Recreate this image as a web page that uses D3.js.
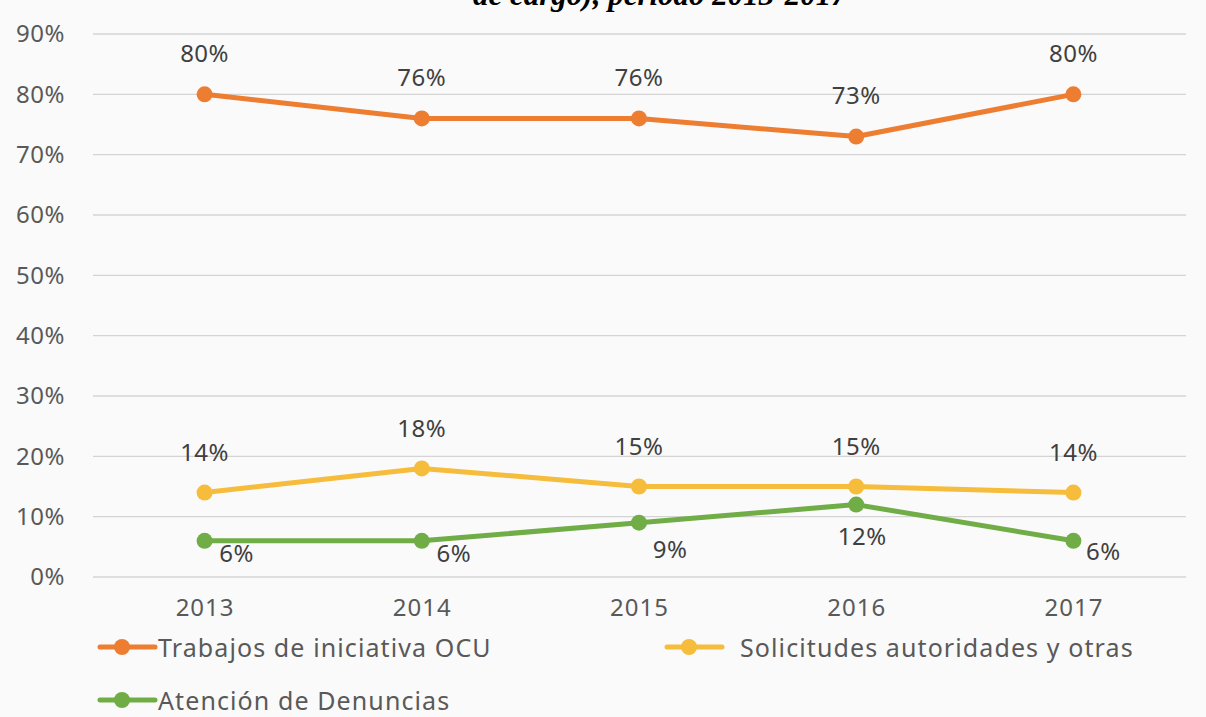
<!DOCTYPE html>
<html>
<head>
<meta charset="utf-8">
<script src="https://cdn.jsdelivr.net/npm/d3@7"></script>
<style>
  body { margin: 0; background: #fafafa; }
  svg { display: block; }
</style>
</head>
<body>
<div id="chart"></div>
<script>
// datos
const years = ["2013", "2014", "2015", "2016", "2017"];
const yTicks = [0, 0.1, 0.2, 0.3, 0.4, 0.5, 0.6, 0.7, 0.8, 0.9];
const trabajosOCU = [0.80, 0.76, 0.76, 0.73, 0.80];
const solicitudes = [0.14, 0.18, 0.15, 0.15, 0.14];
const denuncias = [0.06, 0.06, 0.09, 0.12, 0.06];
const seriesNames = ["Trabajos de iniciativa OCU", "Solicitudes autoridades y otras", "Atención de Denuncias"];
const titleTail = "de cargo), periodo 2013-2017";

const W = 1206, H = 717;
const font = "'Noto Sans', 'Open Sans', sans-serif";

const svg = d3.select("#chart").append("svg")
  .attr("width", W)
  .attr("height", H);

svg.append("rect").attr("width", W).attr("height", H).attr("fill", "#fafafa");

// título cortado arriba (solo se ve la parte baja)
svg.append("text")
  .attr("x", 473)
  .attr("y", 5)
  .style("font-family", "'Liberation Serif', serif")
  .style("font-weight", "bold")
  .style("font-style", "italic")
  .style("font-size", "31px")
  .attr("fill", "#000")
  .text(titleTail);

const x = d3.scalePoint()
  .domain(years)
  .range([96, 1182])
  .padding(0.5);

const y = d3.scaleLinear()
  .domain([0, 0.9])
  .range([577, 34]);

// rejilla
svg.append("g")
  .selectAll("line")
  .data(yTicks)
  .join("line")
  .attr("x1", 93)
  .attr("x2", 1186)
  .attr("y1", d => y(d))
  .attr("y2", d => y(d))
  .attr("stroke", "#d4d4d4")
  .attr("stroke-width", 1.3);

// eje Y
const yAxis = svg.append("g")
  .attr("transform", "translate(65,0)")
  .call(d3.axisLeft(y).tickValues(yTicks).tickFormat(d3.format(".0%")).tickSize(0).tickPadding(0));
yAxis.select(".domain").remove();
yAxis.selectAll("text")
  .style("font-family", font)
  .style("font-size", "24px")
  .style("letter-spacing", "0.5px")
  .attr("fill", "#595959");

// eje X
const xAxis = svg.append("g")
  .attr("transform", "translate(0,577)")
  .call(d3.axisBottom(x).tickSize(0).tickPadding(22));
xAxis.select(".domain").remove();
xAxis.selectAll("text")
  .style("font-family", font)
  .style("font-size", "24px")
  .style("letter-spacing", "1px")
  .attr("fill", "#595959");

// desplazamientos de etiquetas (solo maquetación)
const series = [
  {name: seriesNames[0], values: trabajosOCU, color: "#ed7d31", labelDx: [0, 0, 0, 0, 0], labelDy: [-42, -42, -42, -42, -42]},
  {name: seriesNames[1], values: solicitudes, color: "#f6bc3b", labelDx: [0, 0, 0, 0, 0], labelDy: [-41, -41, -41, -41, -41]},
  {name: seriesNames[2], values: denuncias, color: "#70ad47", labelDx: [32, 32, 31, 6, 30], labelDy: [12, 12, 26, 31, 10]}
];

const line = d3.line()
  .x((d, i) => x(years[i]))
  .y(d => y(d));

series.forEach(s => {
  const g = svg.append("g");
  g.append("path")
    .datum(s.values)
    .attr("fill", "none")
    .attr("stroke", s.color)
    .attr("stroke-width", 5)
    .attr("stroke-linejoin", "round")
    .attr("d", line);
  g.selectAll("circle")
    .data(s.values)
    .join("circle")
    .attr("cx", (d, i) => x(years[i]))
    .attr("cy", d => y(d))
    .attr("r", 8)
    .attr("fill", s.color);
  g.selectAll("text")
    .data(s.values)
    .join("text")
    .attr("x", (d, i) => x(years[i]) + s.labelDx[i])
    .attr("y", (d, i) => y(d) + s.labelDy[i])
    .attr("text-anchor", "middle")
    .attr("dominant-baseline", "central")
    .style("font-family", font)
    .style("font-size", "24px")
    .style("letter-spacing", "0.5px")
    .attr("fill", "#404040")
    .text(d => d3.format(".0%")(d));
});

// leyenda
const legendPos = [[100, 647], [667, 647], [100, 700]];
series.forEach((s, i) => {
  const [lx, ly] = legendPos[i];
  const lg = svg.append("g").attr("transform", `translate(${lx},${ly})`);
  lg.append("line")
    .attr("x1", 0).attr("x2", 55)
    .attr("stroke", s.color)
    .attr("stroke-width", 5)
    .attr("stroke-linecap", "round");
  lg.append("circle")
    .attr("cx", 22).attr("r", 8)
    .attr("fill", s.color);
  lg.append("text")
    .attr("x", 58 + (i === 1 ? 15 : 0))
    .attr("dominant-baseline", "central")
    .style("font-family", font)
    .style("font-size", "25px")
    .style("letter-spacing", "1.1px")
    .attr("fill", "#595959")
    .text(s.name);
});
</script>
</body>
</html>
